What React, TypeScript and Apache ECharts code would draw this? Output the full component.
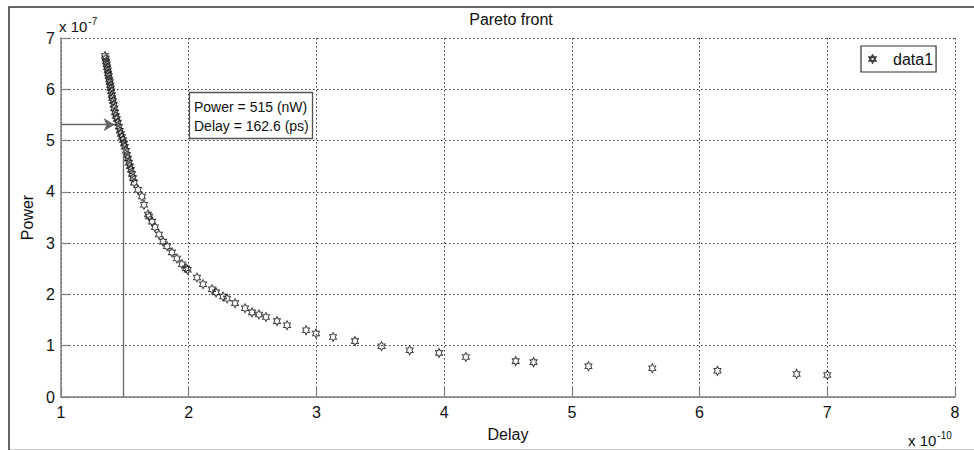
import React, { useEffect, useRef } from "react";
import * as echarts from "echarts";

// Delay in units of 1e-10 s, Power in units of 1e-7 W
const delayE10: number[] = [
  1.345, 1.35, 1.353, 1.358, 1.361, 1.366, 1.369, 1.374, 1.377, 1.382, 1.386, 1.39, 1.393, 1.398,
  1.401, 1.407, 1.413, 1.417, 1.423, 1.43, 1.437, 1.445, 1.453, 1.461, 1.469, 1.477, 1.486, 1.493,
  1.5, 1.509, 1.517, 1.524, 1.532, 1.54, 1.548, 1.556, 1.564, 1.572,
  1.603, 1.634, 1.65, 1.681, 1.69, 1.713, 1.736, 1.767, 1.799, 1.83, 1.869, 1.908, 1.948, 1.979,
  1.992, 2.065, 2.112, 2.182, 2.214, 2.269, 2.3, 2.363, 2.441, 2.496, 2.55, 2.605, 2.691, 2.77,
  2.919, 2.997, 3.13, 3.302, 3.51, 3.73, 3.96, 4.17, 4.56, 4.7, 5.13, 5.63, 6.14, 6.76, 7.0,
];
const powerE7: number[] = [
  6.65, 6.6, 6.54, 6.49, 6.43, 6.37, 6.31, 6.26, 6.19, 6.14, 6.08, 6.02, 5.96, 5.89,
  5.83, 5.77, 5.7, 5.63, 5.55, 5.48, 5.42, 5.35, 5.27, 5.19, 5.13, 5.07, 5.01, 4.94,
  4.88, 4.8, 4.72, 4.65, 4.57, 4.5, 4.43, 4.35, 4.27, 4.18,
  4.04, 3.91, 3.75, 3.56, 3.52, 3.42, 3.31, 3.17, 3.03, 2.94, 2.82, 2.7, 2.59, 2.51,
  2.48, 2.33, 2.2, 2.1, 2.04, 1.96, 1.92, 1.83, 1.73, 1.65, 1.61, 1.56, 1.48, 1.4,
  1.3, 1.24, 1.17, 1.09, 0.99, 0.91, 0.86, 0.78, 0.7, 0.68, 0.6, 0.56, 0.51, 0.45, 0.43,
];

const xTicks = { min: 1, max: 8, step: 1 };
const yTicks = { min: 0, max: 7, step: 1 };

const seriesName = "data1";
const titleText = "Pareto front";
const xName = "Delay";
const yName = "Power";
const annotationLines = ["Power = 515 (nW)", "Delay = 162.6 (ps)"];
const arrowPoint = [1.42, 5.31];
const dropPoint = [1.49, 5.0];

const STAR =
  "path://M100,0L128.87,50L186.6,50L157.7,100L186.6,150L128.87,150L100,200L71.13,150L13.4,150L42.3,100L13.4,50L71.13,50Z";
const FONT = "'Liberation Sans', Arial, Helvetica, sans-serif";

export default function App() {
  const ref = useRef<HTMLDivElement>(null);
  useEffect(() => {
    if (!ref.current) return;
    const chart = echarts.init(ref.current, null, { renderer: "svg" });
    const data = delayE10.map((d, i) => [d, powerE7[i]]);
    chart.setOption({
      animation: false,
      backgroundColor: "#fff",
      textStyle: { fontFamily: FONT },
      title: {
        text: titleText,
        left: 506,
        top: 6,
        textAlign: "center",
        textStyle: { fontSize: 16, fontWeight: "normal", color: "#111", fontFamily: FONT },
      },
      grid: { left: 61, right: 19, top: 38, bottom: 53, containLabel: false },
      legend: {
        left: 861,
        top: 46,
        orient: "vertical",
        data: [{ name: seriesName, icon: STAR }],
        itemWidth: 31,
        itemHeight: 7,
        padding: [5, 3, 5, 7.5],
        borderColor: "#333",
        borderWidth: 1.2,
        backgroundColor: "#fff",
        textStyle: { fontSize: 16, color: "#111", fontFamily: FONT },
      },
      xAxis: {
        type: "value",
        min: xTicks.min,
        max: xTicks.max,
        interval: xTicks.step,
        name: xName,
        nameLocation: "middle",
        nameGap: 29,
        nameTextStyle: { fontSize: 16, color: "#111", fontFamily: FONT },
        axisLine: { show: true, onZero: false, lineStyle: { color: "#808080", width: 1.5 } },
        axisTick: { show: true, inside: true, length: 11, lineStyle: { color: "#808080", width: 1.2 } },
        axisLabel: { fontSize: 16, color: "#111", margin: 7, fontFamily: FONT },
        splitLine: { show: true, lineStyle: { color: "#333", type: [1.5, 2.5], width: 1 } },
      },
      yAxis: {
        type: "value",
        min: yTicks.min,
        max: yTicks.max,
        interval: yTicks.step,
        name: yName,
        nameLocation: "middle",
        nameGap: 25,
        nameTextStyle: { fontSize: 16, color: "#111", fontFamily: FONT },
        axisLine: { show: true, onZero: false, lineStyle: { color: "#808080", width: 1.5 } },
        axisTick: { show: true, inside: true, length: 8, lineStyle: { color: "#808080", width: 1.2 } },
        axisLabel: { fontSize: 16, color: "#111", margin: 6, fontFamily: FONT },
        splitLine: { show: true, lineStyle: { color: "#333", type: [1.5, 2.5], width: 1 } },
      },
      series: [
        {
          name: seriesName,
          type: "scatter",
          data,
          symbol: STAR,
          symbolSize: [8, 9],
          symbolKeepAspect: true,
          itemStyle: { color: "transparent", borderColor: "#111", borderWidth: 1 },
          markLine: {
            silent: true,
            animation: false,
            label: { show: false },
            lineStyle: { color: "#666", type: "solid", width: 1.3 },
            symbolSize: 11,
            data: [
              [
                { coord: [xTicks.min, arrowPoint[1]], symbol: "none" },
                { coord: arrowPoint, symbol: "arrow", symbolSize: [10, 11] },
              ],
              [
                { coord: [dropPoint[0], yTicks.min], symbol: "none" },
                { coord: dropPoint, symbol: "none" },
              ],
            ],
          },
        },
      ],
      graphic: [
        {
          type: "rect",
          left: 6.5,
          top: 4.5,
          shape: { x: 0, y: 0, width: 990, height: 443.5 },
          style: { fill: "none", stroke: "#333", lineWidth: 1.5 },
          silent: true,
          z: -1,
        },
        {
          type: "rect",
          shape: { x: 189.5, y: 92.5, width: 123, height: 46 },
          style: { fill: "#fff", stroke: "#555", lineWidth: 1.3 },
          z: 10,
        },
        {
          type: "text",
          x: 194,
          y: 97,
          style: {
            text: annotationLines.join("\n"),
            fontSize: 14,
            lineHeight: 19,
            fill: "#111",
            fontFamily: FONT,
          },
          z: 11,
        },
        {
          type: "text",
          x: 59,
          y: 16,
          style: {
            text: "{b|x 10}{s|-7}",
            rich: {
              b: { fontSize: 15, fill: "#111", fontFamily: FONT, verticalAlign: "bottom" },
              s: { fontSize: 10, fill: "#111", fontFamily: FONT, verticalAlign: "top", padding: [0, 0, 8, 1] },
            },
          },
        },
        {
          type: "text",
          x: 908,
          y: 430,
          style: {
            text: "{b|x 10}{s|-10}",
            rich: {
              b: { fontSize: 15, fill: "#111", fontFamily: FONT, verticalAlign: "bottom" },
              s: { fontSize: 10, fill: "#111", fontFamily: FONT, verticalAlign: "top", padding: [0, 0, 8, 1] },
            },
          },
        },
      ],
    });
    return () => chart.dispose();
  }, []);
  return (
    <div
      ref={ref}
      style={{ position: "absolute", left: 0, top: 0, width: 974, height: 450, background: "#fff" }}
    />
  );
}
